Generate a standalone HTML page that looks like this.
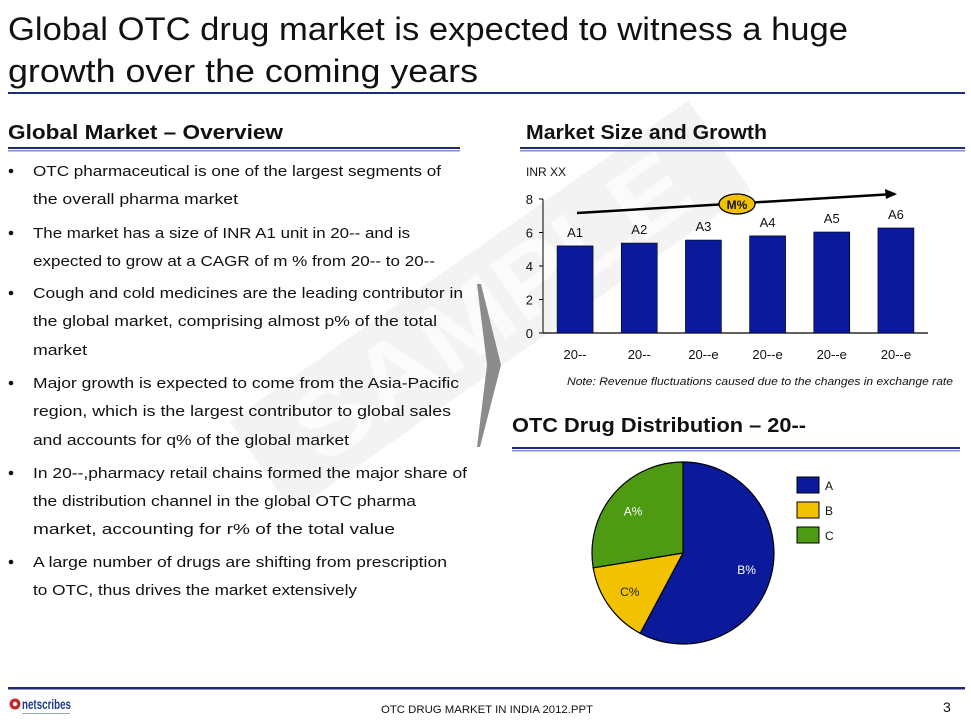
<!DOCTYPE html>
<html><head><meta charset="utf-8"><style>
html,body{margin:0;padding:0;background:#fff;}
svg{display:block;font-family:"Liberation Sans",sans-serif;}
</style></head><body>
<svg width="971" height="728" viewBox="0 0 971 728">
<!-- watermark -->
<g transform="translate(300,470) rotate(-35)">
  <rect x="-30" y="-80" width="560" height="110" fill="#f3f3f3"/>
  <text x="20" y="10" font-size="100" fill="#fbfbfb" font-weight="bold" textLength="460" lengthAdjust="spacingAndGlyphs">SAMPLE</text>
</g>
<!-- title -->
<text x="8" y="40" font-size="32" fill="#111" textLength="840" lengthAdjust="spacingAndGlyphs">Global OTC drug market is expected to witness a huge</text>
<text x="8" y="82" font-size="32" fill="#111" textLength="470" lengthAdjust="spacingAndGlyphs">growth over the coming years</text>
<rect x="8" y="92" width="957" height="2" fill="#1f2a7a"/>
<!-- section titles -->
<text x="8" y="139" font-size="20" font-weight="bold" fill="#111" textLength="275" lengthAdjust="spacingAndGlyphs">Global Market – Overview</text>
<rect x="8" y="147" width="452" height="2" fill="#1f2a7a"/>
<rect x="8" y="150" width="452" height="1.5" fill="#7f8fd0"/>
<text x="526" y="139" font-size="20" font-weight="bold" fill="#111" textLength="241" lengthAdjust="spacingAndGlyphs">Market Size and Growth</text>
<rect x="520" y="147" width="445" height="2" fill="#1f2a7a"/>
<rect x="520" y="150" width="445" height="1.5" fill="#7f8fd0"/>
<text x="512" y="432" font-size="20" font-weight="bold" fill="#111" textLength="294" lengthAdjust="spacingAndGlyphs">OTC Drug Distribution – 20--</text>
<rect x="512" y="447" width="448" height="2" fill="#1f2a7a"/>
<rect x="512" y="450" width="448" height="1.5" fill="#7f8fd0"/>
<!-- bullets -->
<g font-size="15" fill="#111">
<circle cx="11" cy="171" r="2.3"/><text x="33" y="176" textLength="408" lengthAdjust="spacingAndGlyphs">OTC pharmaceutical is one of the largest segments of</text>
<text x="33" y="204" textLength="205" lengthAdjust="spacingAndGlyphs">the overall pharma market</text>
<circle cx="11" cy="233" r="2.3"/><text x="33" y="238" textLength="377" lengthAdjust="spacingAndGlyphs">The market has a size of INR A1 unit in 20-- and is</text>
<text x="33" y="266" textLength="402" lengthAdjust="spacingAndGlyphs">expected to grow at a CAGR of m % from 20-- to 20--</text>
<circle cx="11" cy="293" r="2.3"/><text x="33" y="298" textLength="430" lengthAdjust="spacingAndGlyphs">Cough and cold medicines are the leading contributor in</text>
<text x="33" y="326" textLength="404" lengthAdjust="spacingAndGlyphs">the global market, comprising almost p% of the total</text>
<text x="33" y="355" textLength="54" lengthAdjust="spacingAndGlyphs">market</text>
<circle cx="11" cy="383" r="2.3"/><text x="33" y="388" textLength="426" lengthAdjust="spacingAndGlyphs">Major growth is expected to come from the Asia-Pacific</text>
<text x="33" y="416" textLength="418" lengthAdjust="spacingAndGlyphs">region, which is the largest contributor to global sales</text>
<text x="33" y="445" textLength="316" lengthAdjust="spacingAndGlyphs">and accounts for q% of the global market</text>
<circle cx="11" cy="473" r="2.3"/><text x="33" y="478" textLength="434" lengthAdjust="spacingAndGlyphs">In 20--,pharmacy retail chains formed the major share of</text>
<text x="33" y="506" textLength="383" lengthAdjust="spacingAndGlyphs">the distribution channel in the global OTC pharma</text>
<text x="33" y="534" textLength="362" lengthAdjust="spacingAndGlyphs">market, accounting for r% of the total value</text>
<circle cx="11" cy="562" r="2.3"/><text x="33" y="567" textLength="414" lengthAdjust="spacingAndGlyphs">A large number of drugs are shifting from prescription</text>
<text x="33" y="595" textLength="324" lengthAdjust="spacingAndGlyphs">to OTC, thus drives the market extensively</text>
</g>
<!-- chevron -->
<polygon points="477,284 481,284 501,365 480,447 477,447 487,365" fill="#8c8c8c"/>
<!-- bar chart -->
<g id="bar-chart"></g>
<text x="567" y="385" font-size="11" font-style="italic" fill="#111" textLength="386" lengthAdjust="spacingAndGlyphs">Note: Revenue fluctuations caused due to the changes in exchange rate</text>
<!-- pie -->
<g id="pie-chart"></g>
<!-- footer -->
<rect x="8" y="687" width="957" height="2.5" fill="#1f2a7a"/>
<g>
  <circle cx="15" cy="704" r="5.5" fill="#c62828"/>
  <circle cx="15" cy="704" r="2.2" fill="#fff"/>
  <text x="22" y="709" font-size="14" font-weight="bold" fill="#1f3a8a" textLength="49" lengthAdjust="spacingAndGlyphs">netscribes</text>
  <rect x="22" y="713" width="48" height="1" fill="#9aa"/>
</g>
<text x="381" y="713" font-size="11" fill="#111" textLength="212" lengthAdjust="spacingAndGlyphs">OTC DRUG MARKET IN INDIA 2012.PPT</text>
<text x="943" y="712" font-size="14" fill="#111">3</text>
</svg>
<script>
const NS='http://www.w3.org/2000/svg';
const barCategories=['20--','20--','20--e','20--e','20--e','20--e'];
const barValues=[5.2,5.37,5.55,5.8,6.03,6.27];
const barLabels=['A1','A2','A3','A4','A5','A6'];
const yTicks=[0,2,4,6,8];
const pieLabels=['B%','C%','A%'];
const pieValues=[57.8,14.6,27.6];
const pieColors=['#0a1a9a','#f2c200','#4e9a12'];
const legendLabels=['A','B','C'];
const legendColors=['#0a1a9a','#f2c200','#4e9a12'];

function mk(tag,attrs,parent,txt){const e=document.createElementNS(NS,tag);for(const k in attrs)e.setAttribute(k,attrs[k]);if(txt!==undefined)e.textContent=txt;parent.appendChild(e);return e;}

const bc=document.getElementById('bar-chart');
const x0=543,x1=928,yZero=333,yMax=199,vMax=8;
const yScale=v=>yZero-(v/vMax)*(yZero-yMax);
const step=(x1-x0)/barValues.length;
const xBand=i=>x0+step*i+(step-36)/2;
let t=mk('text',{x:526,y:176,'font-size':12,fill:'#111'},bc,'INR XX');


let ax=mk('line',{x1:x0,y1:yMax,x2:x0,y2:yZero,stroke:'#000','stroke-width':1},bc);


let xa=mk('line',{x1:x0,y1:yZero,x2:x1,y2:yZero,stroke:'#000','stroke-width':1.3},bc);


yTicks.forEach(v=>{
  const y=yScale(v);
  mk('line',{x1:x0-4,y1:y,x2:x0,y2:y,stroke:'#000'},bc);
  const l=mk('text',{x:x0-10,y:y+5,'font-size':13,'text-anchor':'end',fill:'#111'},bc,String(v));
  
  
});
barValues.forEach((v,i)=>{
  const x=xBand(i),y=yScale(v);
  const r=mk('rect',{x:x,y:y,width:36,height:yZero-y,fill:'#0a1a9a',stroke:'#000','stroke-width':0.6},bc);
  
  
  const l=mk('text',{x:x+18,y:y-9,'font-size':13,'text-anchor':'middle',fill:'#111'},bc,barLabels[i]);
  
  
  const c=mk('text',{x:x+18,y:yZero+26,'font-size':13,'text-anchor':'middle',fill:'#111'},bc,barCategories[i]);
  
  
});
const arr=mk('line',{x1:577,y1:213,x2:895,y2:194,stroke:'#000','stroke-width':2.5},bc);


mk('polygon',{points:'897,194 885,189 886,199',fill:'#000'},bc);
const el=mk('ellipse',{cx:737,cy:204,rx:18,ry:10,fill:'#f2c200',stroke:'#000','stroke-width':1.3},bc);


mk('text',{x:737,y:209,'font-size':12,'font-weight':'bold','text-anchor':'middle',fill:'#111'},bc,'M%');

const pc=document.getElementById('pie-chart');
const cx=683,cy=553,R=91;
const total=pieValues.reduce((a,b)=>a+b,0);
let acc=0;
const pt=(a,r)=>[cx+r*Math.sin(a),cy-r*Math.cos(a)];
const labelColors=['#fff','#222','#fff'];
pieValues.forEach((v,i)=>{
  const a0=acc/total*2*Math.PI;acc+=v;const a1=acc/total*2*Math.PI;
  const p0=pt(a0,R),p1=pt(a1,R);
  const large=(a1-a0)>Math.PI?1:0;
  const p=mk('path',{d:`M${cx},${cy}L${p0[0]},${p0[1]}A${R},${R} 0 ${large} 1 ${p1[0]},${p1[1]}Z`,fill:pieColors[i],stroke:'#000','stroke-width':1.2},pc);
  
  
  const m=(a0+a1)/2,lp=pt(m,R*0.72);
  const l=mk('text',{x:lp[0],y:lp[1]+5,'font-size':12,'text-anchor':'middle',fill:labelColors[i]},pc,pieLabels[i]);
  
  
});
legendLabels.forEach((s,i)=>{
  const y=477+i*25;
  const r=mk('rect',{x:797,y:y,width:22,height:16,fill:legendColors[i],stroke:'#000','stroke-width':1},pc);
  
  
  const l=mk('text',{x:825,y:y+13,'font-size':12,fill:'#111'},pc,s);
  
  
});
</script>
</body></html>
